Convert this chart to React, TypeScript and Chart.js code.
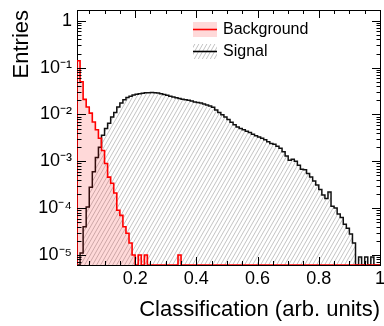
import React, { useEffect, useRef } from 'react';
import { Chart, registerables } from 'chart.js';

Chart.register(...registerables);

// ---- data ----
const BIN_START = 0.01;
const BIN_WIDTH = 0.01;

const backgroundEntries = [
  0.14, 0.05, 0.021, 0.0144, 0.0107, 0.0069, 0.0047, 0.0031, 0.0017, 0.0009,
  0.00046, 0.00034, 0.00021, 0.00009, 0.00007, 0.00004, 0.000029, 0.000018, 0.00001, 0,
  0.00001, 0, 0.00001, 0, 0, 0, 0, 0, 0, 0,
  0, 0, 0, 0.00001, 0, 0, 0, 0, 0, 0,
  0, 0, 0, 0, 0, 0, 0, 0, 0, 0,
  0, 0, 0, 0, 0, 0, 0, 0, 0, 0,
  0, 0, 0, 0, 0, 0, 0, 0, 0, 0,
  0, 0, 0, 0, 0, 0, 0, 0, 0, 0,
  0, 0, 0, 0, 0, 0, 0, 0, 0, 0,
  0, 0, 0, 0, 0, 0, 0, 0, 0,
];

const signalEntries = [
  0, 0.000011, 0.00004, 0.000105, 0.00028, 0.0006, 0.0012, 0.002, 0.0036, 0.005,
  0.0065, 0.0088, 0.011, 0.0145, 0.0175, 0.0205, 0.023, 0.0245, 0.026, 0.027,
  0.0278, 0.0285, 0.029, 0.0292, 0.0293, 0.029, 0.0286, 0.0278, 0.0268, 0.0257,
  0.0245, 0.0235, 0.0226, 0.0218, 0.021, 0.0205, 0.02, 0.0193, 0.0185, 0.018,
  0.0175, 0.0167, 0.016, 0.0152, 0.0143, 0.0125, 0.011, 0.0098, 0.0088, 0.0078,
  0.0068, 0.006, 0.0054, 0.005, 0.0047, 0.0044, 0.0041, 0.0038, 0.0035, 0.0033,
  0.0031, 0.0029, 0.0026, 0.0024, 0.0023, 0.0021, 0.0019, 0.0016, 0.0013, 0.00105,
  0.0011, 0.001, 0.00082, 0.00068, 0.00066, 0.00055, 0.00046, 0.00038, 0.00031, 0.00025,
  0.00019, 0.00016, 0.00022, 0.00011, 0.0001, 0.000075, 0.000063, 0.000045, 0.000037, 0.000028,
  0.000018, 0, 0.000009, 0, 0.000009, 0, 0.000009, 0, 0,
];

const seriesNames = ['Background', 'Signal'];
const xTickValues = [0.2, 0.4, 0.6, 0.8, 1];
const xTickLabels = ['0.2', '0.4', '0.6', '0.8', '1'];
const yTickValues = [1, 0.1, 0.01, 0.001, 0.0001, 0.00001];
const yTickLabels = ['1', '10\u207B\u00B9', '10\u207B\u00B2', '10\u207B\u00B3', '10\u207B\u2074', '10\u207B\u2075'];
const xTitle = 'Classification (arb. units)';
const yTitle = 'Entries';

const X_MIN = 0.01;
const X_MAX = 1.0;
const Y_MIN = 6.1e-6;
const Y_MAX = 1.7;
const X_MINOR_STEP = 0.05;

const FONT = "'Liberation Sans', Arial, Helvetica, sans-serif";
const RED = '#ff0000';
const PINK = 'rgba(255, 0, 0, 0.15)';

function toSteps(values: number[]) {
  const pts: { x: number; y: number }[] = [{ x: BIN_START, y: Y_MIN }];
  values.forEach((v, k) => {
    pts.push({ x: BIN_START + k * BIN_WIDTH, y: v > 0 ? v : Y_MIN });
  });
  const last = values[values.length - 1];
  const end = BIN_START + values.length * BIN_WIDTH;
  pts.push({ x: end, y: last > 0 ? last : Y_MIN });
  pts.push({ x: end, y: Y_MIN });
  return pts;
}

function makeHatch(): CanvasPattern | string {
  const w = 4;
  const h = 7;
  const c = document.createElement('canvas');
  c.width = w;
  c.height = h;
  const g = c.getContext('2d');
  if (!g) return '#ddd';
  g.strokeStyle = '#b0b0b0';
  g.lineWidth = 0.75;
  for (const o of [-w, 0, w]) {
    g.beginPath();
    g.moveTo(o, h);
    g.lineTo(o + w, 0);
    g.stroke();
  }
  return g.createPattern(c, 'repeat') || '#ddd';
}

function matchIndex(list: number[], v: number) {
  return list.findIndex((t) => Math.abs(t - v) <= Math.abs(t) * 1e-6);
}

export default function App() {
  const ref = useRef<HTMLCanvasElement>(null);

  useEffect(() => {
    const canvas = ref.current;
    if (!canvas) return;
    const hatch = makeHatch();

    const rootStyle = {
      id: 'rootStyle',
      beforeDatasetsDraw(chart: any) {
        const { ctx, chartArea: a } = chart;
        ctx.save();
        ctx.strokeStyle = '#000';
        ctx.lineWidth = 1;
        ctx.strokeRect(a.left + 0.5, a.top + 0.5, a.right - a.left, a.bottom - a.top);
        ctx.restore();
      },
      afterDatasetsDraw(chart: any) {
        const { ctx, chartArea: a } = chart;
        const xs = chart.scales.x;
        const ys = chart.scales.y;
        ctx.save();
        ctx.strokeStyle = '#000';
        ctx.lineWidth = 1;
        ctx.beginPath();
        // x ticks (bottom + top)
        const nx = Math.round(X_MAX / X_MINOR_STEP);
        for (let i = 1; i <= nx; i++) {
          const v = i * X_MINOR_STEP;
          if (v < X_MIN || v > X_MAX + 1e-9) continue;
          const major = i % 4 === 0;
          const len = major ? 8 : 4;
          const px = Math.round(xs.getPixelForValue(v)) + 0.5;
          ctx.moveTo(px, a.bottom);
          ctx.lineTo(px, a.bottom - len);
          ctx.moveTo(px, a.top);
          ctx.lineTo(px, a.top + len);
        }
        // y ticks (left + right), log
        for (let d = -6; d <= 0; d++) {
          for (let m = 1; m <= 9; m++) {
            const v = m * Math.pow(10, d);
            if (v < Y_MIN || v > Y_MAX) continue;
            const len = m === 1 ? 9 : 4.5;
            const py = Math.round(ys.getPixelForValue(v)) + 0.5;
            ctx.moveTo(a.left, py);
            ctx.lineTo(a.left + len, py);
            ctx.moveTo(a.right + 1, py);
            ctx.lineTo(a.right + 1 - len, py);
          }
        }
        ctx.stroke();

        // legend
        const w = a.right - a.left;
        const bx = Math.round(a.left + w * 0.383);
        const bw = 24;
        const bh = 15;
        const rows = [
          { y: a.top + 12, fill: PINK, line: RED },
          { y: a.top + 34, fill: hatch, line: '#000' },
        ];
        ctx.font = `16px ${FONT}`;
        ctx.textBaseline = 'middle';
        ctx.textAlign = 'left';
        rows.forEach((r, i) => {
          ctx.fillStyle = r.fill as any;
          ctx.fillRect(bx, r.y, bw, bh);
          ctx.strokeStyle = r.line;
          ctx.lineWidth = 1.6;
          ctx.beginPath();
          ctx.moveTo(bx, r.y + bh / 2);
          ctx.lineTo(bx + bw, r.y + bh / 2);
          ctx.stroke();
          ctx.fillStyle = '#000';
          ctx.fillText(seriesNames[i], bx + bw + 6, r.y + bh / 2 + 0.5);
        });
        ctx.restore();
      },
    };

    const chart = new Chart(canvas, {
      type: 'line',
      data: {
        datasets: [
          {
            label: seriesNames[0],
            data: toSteps(backgroundEntries),
            borderColor: RED,
            backgroundColor: PINK,
            borderWidth: 1.6,
            fill: 'start',
            stepped: 'before',
            pointRadius: 0,
            tension: 0,
          },
          {
            label: seriesNames[1],
            data: toSteps(signalEntries),
            borderColor: '#111',
            backgroundColor: hatch as any,
            borderWidth: 1.5,
            fill: 'start',
            stepped: 'before',
            pointRadius: 0,
            tension: 0,
          },
        ],
      },
      options: {
        responsive: false,
        animation: false,
        events: [],
        layout: { padding: { left: 0, top: 10, right: 4, bottom: 0 } },
        plugins: {
          legend: { display: false },
          tooltip: { enabled: false },
        },
        scales: {
          x: {
            type: 'linear',
            min: X_MIN,
            max: X_MAX,
            grid: { display: false, drawTicks: false },
            border: { display: false },
            ticks: {
              stepSize: 0.2,
              includeBounds: false,
              autoSkip: false,
              maxRotation: 0,
              padding: 3,
              color: '#000',
              font: { size: 18, family: FONT },
              callback: (v: any) => {
                const i = matchIndex(xTickValues, Number(v));
                return i >= 0 ? xTickLabels[i] : '';
              },
            },
            title: {
              display: true,
              text: xTitle,
              align: 'end',
              color: '#000',
              font: { size: 22, family: FONT },
              padding: { top: 0, bottom: 3 },
            },
            afterFit: (s: any) => {
              s.height = 61;
              s.paddingLeft = 0;
              s.paddingRight = 0;
            },
          },
          y: {
            type: 'logarithmic',
            min: Y_MIN,
            max: Y_MAX,
            grid: { display: false, drawTicks: false },
            border: { display: false },
            ticks: {
              autoSkip: false,
              padding: 5,
              color: '#000',
              font: { size: 18, family: FONT },
              callback: (v: any) => {
                const i = matchIndex(yTickValues, Number(v));
                return i >= 0 ? yTickLabels[i] : '';
              },
            },
            title: {
              display: true,
              text: yTitle,
              align: 'end',
              color: '#000',
              font: { size: 22, family: FONT },
              padding: { top: 8.5, bottom: 0 },
            },
            afterFit: (s: any) => {
              s.width = 77;
              s.paddingTop = 0;
              s.paddingBottom = 0;
            },
          },
        },
      },
      plugins: [rootStyle],
    });

    return () => chart.destroy();
  }, []);

  return (
    <div style={{ position: 'fixed', left: 0, top: 0, width: 384, height: 326, background: '#fff' }}>
      <canvas ref={ref} width={384} height={326} style={{ display: 'block' }} />
    </div>
  );
}
